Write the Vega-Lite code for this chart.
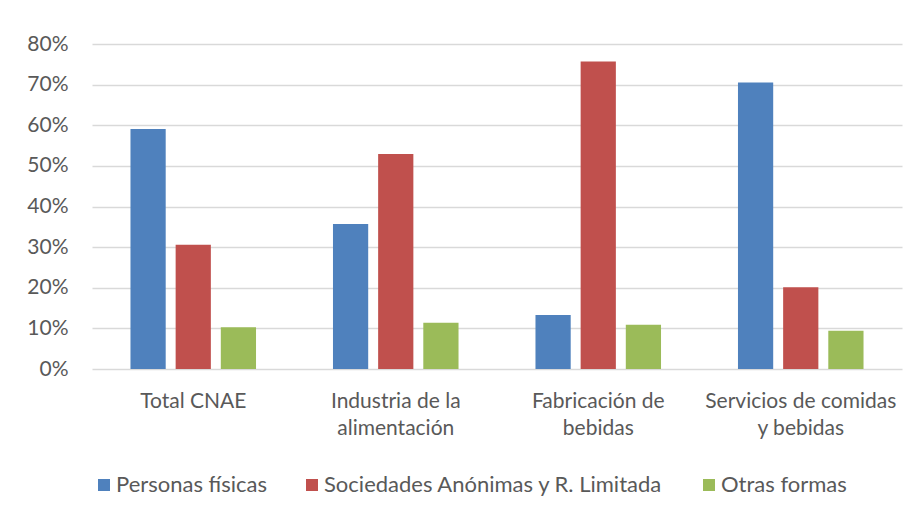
{
  "$schema": "https://vega.github.io/schema/vega-lite/v6.json",
  "width": 810,
  "height": 325,
  "autosize": {"type": "none"},
  "padding": {"left": 92, "top": 44, "right": 13, "bottom": 142},
  "background": "white",
  "data": {
    "values": [
      {"sector": "Total CNAE", "forma": "Personas físicas", "valor": 0.591},
      {"sector": "Total CNAE", "forma": "Sociedades Anónimas y R. Limitada", "valor": 0.306},
      {"sector": "Total CNAE", "forma": "Otras formas", "valor": 0.103},
      {"sector": "Industria de la alimentación", "forma": "Personas físicas", "valor": 0.357},
      {"sector": "Industria de la alimentación", "forma": "Sociedades Anónimas y R. Limitada", "valor": 0.529},
      {"sector": "Industria de la alimentación", "forma": "Otras formas", "valor": 0.114},
      {"sector": "Fabricación de bebidas", "forma": "Personas físicas", "valor": 0.133},
      {"sector": "Fabricación de bebidas", "forma": "Sociedades Anónimas y R. Limitada", "valor": 0.757},
      {"sector": "Fabricación de bebidas", "forma": "Otras formas", "valor": 0.109},
      {"sector": "Servicios de comidas y bebidas", "forma": "Personas físicas", "valor": 0.705},
      {"sector": "Servicios de comidas y bebidas", "forma": "Sociedades Anónimas y R. Limitada", "valor": 0.201},
      {"sector": "Servicios de comidas y bebidas", "forma": "Otras formas", "valor": 0.094}
    ]
  },
  "mark": {"type": "bar"},
  "encoding": {
    "x": {
      "field": "sector",
      "type": "nominal",
      "sort": null,
      "scale": {"paddingInner": 0.38, "paddingOuter": 0.19},
      "axis": {
        "title": null,
        "labelAngle": 0,
        "ticks": false,
        "domain": false,
        "labelPadding": 21,
        "labelBaseline": "top",
        "labelLineHeight": 27,
        "labelFont": "Lato",
        "labelFontSize": 21,
        "labelColor": "#595959",
        "labelLimit": 300,
        "labelExpr": "datum.label == 'Industria de la alimentación' ? ['Industria de la', 'alimentación'] : datum.label == 'Fabricación de bebidas' ? ['Fabricación de', 'bebidas'] : datum.label == 'Servicios de comidas y bebidas' ? ['Servicios de comidas', 'y bebidas'] : datum.label"
      }
    },
    "xOffset": {
      "field": "forma",
      "type": "nominal",
      "sort": null,
      "scale": {"paddingInner": 0.22, "paddingOuter": 0}
    },
    "y": {
      "field": "valor",
      "type": "quantitative",
      "scale": {"domain": [0, 0.8]},
      "axis": {
        "title": null,
        "format": ".0%",
        "values": [0, 0.1, 0.2, 0.3, 0.4, 0.5, 0.6, 0.7, 0.8],
        "ticks": false,
        "domain": false,
        "labelPadding": 24,
        "labelFont": "Lato",
        "labelFontSize": 21,
        "labelColor": "#595959",
        "grid": true,
        "gridColor": "#D9D9D9",
        "gridWidth": 1.3
      }
    },
    "color": {
      "field": "forma",
      "type": "nominal",
      "sort": null,
      "scale": {
        "domain": ["Personas físicas", "Sociedades Anónimas y R. Limitada", "Otras formas"],
        "range": ["#4F81BD", "#C0504D", "#9BBB59"]
      },
      "legend": {
        "title": null,
        "orient": "none",
        "direction": "horizontal",
        "legendX": 1,
        "legendY": 430,
        "padding": 0,
        "symbolType": "square",
        "symbolSize": 144,
        "symbolStrokeWidth": 0,
        "symbolOpacity": 1,
        "labelOffset": 1,
        "labelFont": "Lato",
        "labelFontSize": 22,
        "labelColor": "#595959",
        "labelLimit": 400,
        "columnPadding": 34
      }
    }
  },
  "config": {
    "view": {"stroke": null}
  }
}
